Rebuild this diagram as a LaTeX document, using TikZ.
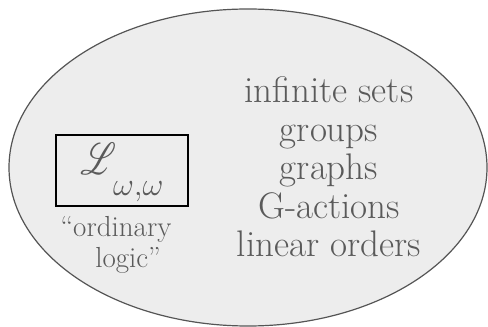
\documentclass[tikz,border=0pt]{standalone}
\usepackage{amsmath}
\usepackage{mathrsfs}
\usetikzlibrary{positioning,shapes.geometric}

\definecolor{textgray}{HTML}{5A5A5A}
\definecolor{blobfill}{HTML}{EDEDED}
\definecolor{blobedge}{HTML}{555555}

\begin{document}
\begin{tikzpicture}[
  x=1pt, y=1pt,
  blob/.style={ellipse, draw=blobedge, fill=blobfill, line width=1.2pt, inner sep=0pt, minimum width=478pt, minimum height=317pt},
  frame/.style={draw=black, line width=1.6pt, inner sep=0pt, minimum width=132pt, minimum height=71pt},
  caption/.style={text=textgray, align=center, inner sep=0pt, font=\fontsize{29}{31}\selectfont},
  items/.style={text=textgray, align=center, inner sep=0pt, font=\fontsize{37}{38.5}\selectfont}
]
\useasboundingbox (0,0) rectangle (488,327);

\node[blob] (universe) at (248,159.5) {};
\node[frame] (box) at (122,156.5) {};
\node[text=textgray, inner sep=0pt, font=\fontsize{40}{40}\selectfont, yshift=-1.5pt] (logic) at (box)
  {\scalebox{1.35}[1.8]{$\mathscr{L}$}\hspace{-3pt}\raisebox{-21pt}{\scalebox{1.3}{$\scriptstyle\omega,\omega$}}};
\node[caption, below=9pt of box, xshift=-6pt] (ordinary) {``ordinary\\\hspace*{24pt}logic''};

\node[items] (structures) at (329,160) {infinite sets\\groups\\graphs\\G-actions\\linear orders};
\end{tikzpicture}
\end{document}
